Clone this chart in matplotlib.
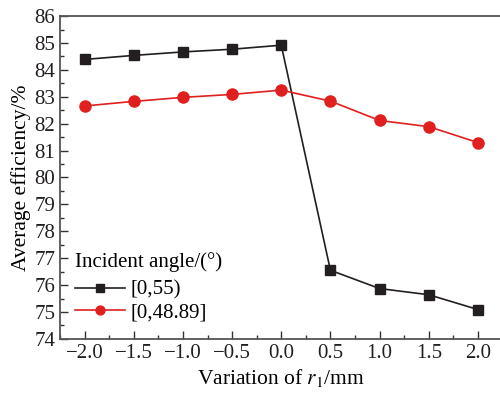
import matplotlib
matplotlib.use("Agg")
import matplotlib.pyplot as plt
from matplotlib.ticker import MultipleLocator

plt.rcParams['font.family'] = ['Liberation Serif', 'DejaVu Serif']
plt.rcParams['mathtext.fontset'] = 'stix'

x = [-2.0, -1.5, -1.0, -0.5, 0.0, 0.5, 1.0, 1.5, 2.0]
series_55 = [84.39, 84.54, 84.67, 84.77, 84.92, 76.55, 75.87, 75.64, 75.09]
series_4889 = [82.66, 82.83, 82.98, 83.09, 83.25, 82.84, 82.12, 81.89, 81.30]
labels = ["[0,55)", "[0,48.89]"]
xticks = [-2.0, -1.5, -1.0, -0.5, 0.0, 0.5, 1.0, 1.5, 2.0]
yticks = list(range(74, 87))

fig = plt.figure(figsize=(5.0, 3.94), dpi=100)
ax = fig.add_axes([0.12, 0.14, 0.885, 0.819])

ax.plot(x, series_55, color='#231f20', marker='s', markersize=7, lw=1.2, label=labels[0])
ax.plot(x, series_4889, color='#e01f1f', marker='o', markersize=8, lw=1.2, label=labels[1])

ax.set_xlim(-2.25, 2.25)
ax.set_ylim(74, 86)
ax.set_xticks(xticks)
ax.set_xticklabels(["\u2212%.1f" % abs(v) if v < 0 else "%.1f" % v for v in xticks])
ax.set_yticks(yticks)
ax.xaxis.set_minor_locator(MultipleLocator(0.25))
ax.yaxis.set_minor_locator(MultipleLocator(0.5))
ax.tick_params(which='both', direction='in', top=False, right=False, labelsize=15, colors='#333333', labelcolor='#231f20')
ax.tick_params(which='major', length=6, width=1)
ax.tick_params(which='minor', length=3, width=1)
ax.spines['right'].set_visible(False)
for s in ['left', 'bottom', 'top']:
    ax.spines[s].set_color('#555555')
    ax.spines[s].set_linewidth(1.3)

ax.set_xlabel("Variation of $r_1$/mm", fontsize=15.5, labelpad=3)
ax.set_ylabel("Average efficiency/%", fontsize=15.5, labelpad=2)

leg = ax.legend(loc='lower left', bbox_to_anchor=(0.0, 0.005), frameon=False, fontsize=15,
                title="Incident angle/(\u00b0)", title_fontsize=15, handlelength=2.4,
                markerscale=0.8, borderaxespad=0.3, labelspacing=0.15, handletextpad=0.3)
leg._legend_box.align = "left"
leg._legend_box.sep = 6

fig.savefig("out.png", dpi=100)
